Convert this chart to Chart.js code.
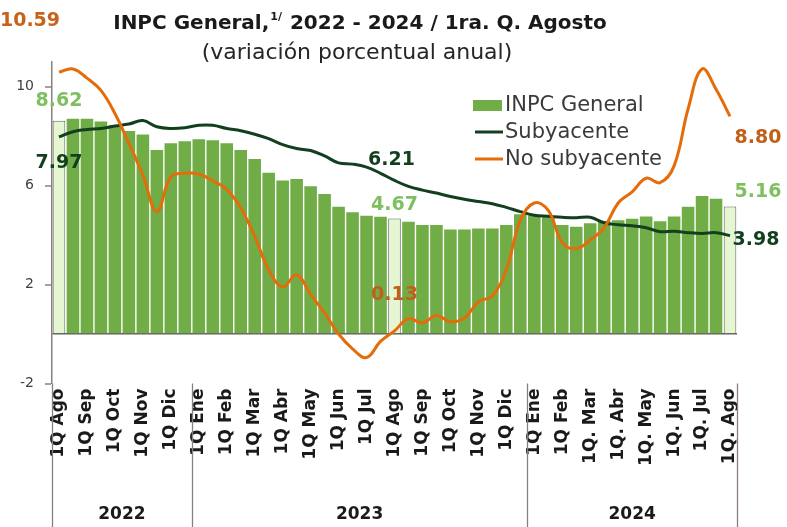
<!DOCTYPE html>
<html><head><meta charset="utf-8">
<script src="https://cdn.jsdelivr.net/npm/chart.js@4/dist/chart.umd.min.js"></script>
<style>html,body{margin:0;padding:0;background:#fff;}</style>
</head><body>
<canvas id="c" width="787" height="527"></canvas>
<script>
const categories = [
  '1Q Ago','2Q Ago','1Q Sep','2Q Sep','1Q Oct','2Q Oct','1Q Nov','2Q Nov','1Q Dic','2Q Dic',
  '1Q Ene','2Q Ene','1Q Feb','2Q Feb','1Q Mar','2Q Mar','1Q Abr','2Q Abr','1Q May','2Q May','1Q Jun','2Q Jun',
  '1Q Jul','2Q Jul','1Q Ago','2Q Ago','1Q Sep','2Q Sep','1Q Oct','2Q Oct','1Q Nov','2Q Nov','1Q Dic','2Q Dic',
  '1Q Ene','2Q Ene','1Q Feb','2Q Feb','1Q. Mar','2Q. Mar','1Q. Abr','2Q. Abr','1Q. May','2Q. May',
  '1Q. Jun','2Q. Jun','1Q. Jul','2Q. Jul','1Q. Ago'
];
const inpcGeneral = [
  8.62, 8.71, 8.71, 8.59, 8.45, 8.21, 8.07, 7.44, 7.71, 7.80,
  7.88, 7.84, 7.71, 7.44, 7.08, 6.52, 6.21, 6.27, 5.98, 5.66, 5.15, 4.92, 4.78, 4.74, 4.67, 4.54, 4.41, 4.41, 4.23, 4.23, 4.27, 4.27, 4.41, 4.84,
  4.79, 4.75, 4.41, 4.34, 4.48, 4.57, 4.60, 4.66, 4.75, 4.56, 4.75, 5.15, 5.58, 5.47, 5.16
];
const subyacente = [
  7.97, 8.18, 8.27, 8.31, 8.41, 8.49, 8.63, 8.38, 8.31, 8.34,
  8.44, 8.44, 8.31, 8.22, 8.08, 7.90, 7.66, 7.50, 7.42, 7.20, 6.92, 6.87, 6.75, 6.50, 6.21, 5.97, 5.82, 5.70, 5.56, 5.45, 5.36, 5.27, 5.12, 4.95,
  4.80, 4.76, 4.72, 4.70, 4.72, 4.50, 4.42, 4.38, 4.30, 4.14, 4.16, 4.10, 4.07, 4.10, 3.98
];
const noSubyacente = [
  10.59, 10.72, 10.35, 9.85, 8.92, 7.71, 6.43, 4.95, 6.36, 6.50,
  6.47, 6.20, 5.85, 5.10, 3.95, 2.60, 1.90, 2.40, 1.60, 0.85, 0.00, -0.60, -0.95, -0.30, 0.13, 0.62, 0.45, 0.75, 0.50, 0.65, 1.30, 1.55, 2.60, 4.60,
  5.30, 5.00, 3.70, 3.45, 3.80, 4.30, 5.30, 5.75, 6.30, 6.12, 6.80, 9.10, 10.72, 9.90, 8.80
];
const yearLabels = ['2022', '2023', '2024'];
const yearCounts = [10, 24, 15];
const highlighted = [0, 24, 48];
const yTickLabels = [-2, 2, 6, 10];
const seriesNames = ['INPC General', 'Subyacente', 'No subyacente'];

const FONT = '"DejaVu Sans", sans-serif';
const C_BAR = '#70AD47', C_BAR_HI = '#E6F5D2', C_SUB = '#123F1E', C_NOSUB = '#E46C0A';
const C_AXIS = '#8A7F80';

// value labels: [dataset index, point index, color, dx, dy]
const valueLabels = [
  [2, 0, '#C8621A', -29, -51],
  [0, 0, '#7FBF60', 0, -20],
  [1, 0, '#123F1E', 0, 26],
  [1, 24, '#123F1E', -3, -20],
  [0, 24, '#7FBF60', 0, -13],
  [2, 24, '#C0601A', 0, -36],
  [2, 48, '#C0601A', 28, 22],
  [0, 48, '#7FBF60', 28, -14],
  [1, 48, '#123F1E', 26, 4]
];

const decor = {
  id: 'decor',
  afterDraw(chart) {
    const {ctx, chartArea: ca, scales: {x, y}} = chart;
    const H = chart.height;
    ctx.save();
    // separators and axis extension
    ctx.strokeStyle = C_AXIS; ctx.lineWidth = 1.3;
    const bounds = [ca.left];
    let acc = 0;
    yearCounts.forEach(n => {
      acc += n;
      bounds.push(acc >= categories.length ? ca.right : (x.getPixelForValue(acc - 1) + x.getPixelForValue(acc)) / 2);
    });
    bounds.forEach(bx => {
      ctx.beginPath(); ctx.moveTo(Math.round(bx) + 0.5, ca.bottom); ctx.lineTo(Math.round(bx) + 0.5, H); ctx.stroke();
    });
    // year labels
    ctx.fillStyle = '#1A1A1A'; ctx.font = 'bold 17px ' + FONT;
    ctx.textAlign = 'center'; ctx.textBaseline = 'middle';
    yearLabels.forEach((t, i) => ctx.fillText(t, (bounds[i] + bounds[i + 1]) / 2, 515));

    // title
    ctx.textBaseline = 'alphabetic'; ctx.textAlign = 'left'; ctx.fillStyle = '#1A1A1A';
    const p1 = 'INPC General,', sup = '1/', p2 = ' 2022 - 2024 / 1ra. Q. Agosto';
    ctx.font = 'bold 20px ' + FONT;
    const w1 = ctx.measureText(p1).width, w2 = ctx.measureText(p2).width;
    ctx.font = 'bold 11px ' + FONT;
    const ws = ctx.measureText(sup).width + 2;
    let sx = 360 - (w1 + ws + w2) / 2;
    ctx.font = 'bold 20px ' + FONT; ctx.fillText(p1, sx, 29);
    ctx.font = 'bold 11px ' + FONT; ctx.fillText(sup, sx + w1 + 1, 20);
    ctx.font = 'bold 20px ' + FONT; ctx.fillText(p2, sx + w1 + ws, 29);
    ctx.font = '22px ' + FONT; ctx.textAlign = 'center'; ctx.fillStyle = '#262626';
    ctx.fillText('(variación porcentual anual)', 357, 59);

    // legend
    ctx.textAlign = 'left'; ctx.textBaseline = 'middle'; ctx.font = '21px ' + FONT;
    const ds = chart.data.datasets;
    ctx.fillStyle = C_BAR; ctx.fillRect(473, 100, 29, 11);
    ctx.lineWidth = 3;
    ctx.strokeStyle = ds[1].borderColor; ctx.beginPath(); ctx.moveTo(475, 132); ctx.lineTo(503, 132); ctx.stroke();
    ctx.strokeStyle = ds[2].borderColor; ctx.beginPath(); ctx.moveTo(475, 159); ctx.lineTo(503, 159); ctx.stroke();
    ctx.fillStyle = '#3A3A3A';
    ds.forEach((d, i) => ctx.fillText(d.label, 505, 106 + i * 27));

    // value labels
    ctx.font = 'bold 19px ' + FONT; ctx.textAlign = 'center'; ctx.textBaseline = 'middle';
    valueLabels.forEach(([di, pi, col, dx, dy]) => {
      const v = ds[di].data[pi];
      ctx.fillStyle = col;
      ctx.fillText(v.toFixed(2), x.getPixelForValue(pi) + dx, y.getPixelForValue(v) + dy);
    });
    ctx.restore();
  }
};

new Chart(document.getElementById('c'), {
  type: 'bar',
  data: {
    labels: categories,
    datasets: [
      {
        type: 'bar', label: seriesNames[0], data: inpcGeneral, order: 3,
        backgroundColor: inpcGeneral.map((_, i) => highlighted.includes(i) ? C_BAR_HI : C_BAR),
        borderColor: inpcGeneral.map((_, i) => highlighted.includes(i) ? '#5E6B58' : 'rgba(0,0,0,0)'),
        borderWidth: inpcGeneral.map((_, i) => highlighted.includes(i) ? 1 : 0),
        barPercentage: 0.9, categoryPercentage: 1.0
      },
      {
        type: 'line', label: seriesNames[1], data: subyacente, order: 2,
        borderColor: C_SUB, borderWidth: 3, pointRadius: 0, tension: 0.4, fill: false
      },
      {
        type: 'line', label: seriesNames[2], data: noSubyacente, order: 1,
        borderColor: C_NOSUB, borderWidth: 3, pointRadius: 0, tension: 0.4, fill: false
      }
    ]
  },
  options: {
    responsive: false, devicePixelRatio: 1, animation: false,
    layout: {padding: {top: 62, right: 50, left: 0, bottom: 0}},
    plugins: {legend: {display: false}, title: {display: false}, tooltip: {enabled: false}},
    scales: {
      x: {
        afterFit(s) { s.height = 143.5; },
        grid: {display: false, drawTicks: false},
        border: {display: false},
        ticks: {
          autoSkip: false, minRotation: 90, maxRotation: 90, padding: 5,
          color: '#1A1A1A', font: {family: FONT, size: 17, weight: 'bold'},
          callback(v) { const l = categories[v]; return l.startsWith('1Q') ? l : ''; }
        }
      },
      y: {
        min: -2, max: 11,
        afterFit(s) { s.width = 52; },
        border: {display: true, color: C_AXIS, width: 1.5},
        grid: {
          drawTicks: true, tickLength: 7,
          color: c => (c.tick && c.tick.value === 0) ? '#5F5F5F' : 'rgba(0,0,0,0)',
          lineWidth: c => (c.tick && c.tick.value === 0) ? 1.5 : 0,
          tickColor: c => (c.tick && yTickLabels.includes(c.tick.value)) ? C_AXIS : 'rgba(0,0,0,0)',
          tickWidth: 1.5
        },
        ticks: {
          stepSize: 2, padding: 11, color: '#404040', font: {family: FONT, size: 14},
          callback(v) { return yTickLabels.includes(v) ? String(v) : ''; }
        }
      }
    }
  },
  plugins: [decor]
});
</script>
</body></html>
